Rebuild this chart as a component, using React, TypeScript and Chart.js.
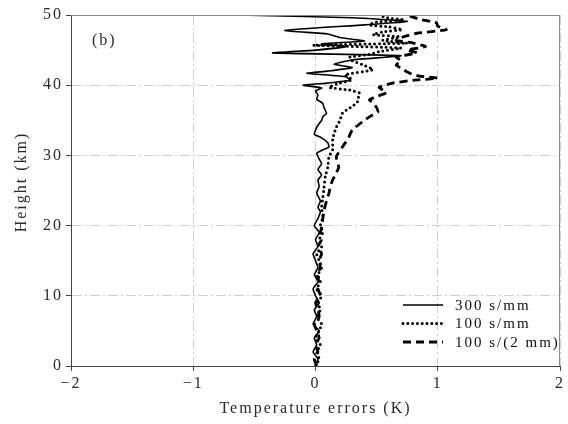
import { useEffect, useRef } from 'react';
import { Chart, registerables } from 'chart.js';

Chart.register(...registerables);

const xTickValues = [-2, -1, 0, 1, 2];
const yTickValues = [0, 10, 20, 30, 40, 50];
const seriesLabels = ['300 s/mm', '100 s/mm', '100 s/(2 mm)'];
const panelLabel = '(b)';
const xTitle = 'Temperature errors (K)';
const yTitle = 'Height (km)';

// [height (km), temperature error (K)]
const solidProfile: [number, number][] = [
  [0, 0], [1, 0.02], [2, -0.02], [3, 0.01], [4, -0.01], [5, 0.03], [6, -0.02], [7, 0.01], [8, -0.01], [9, 0.03],
  [10, 0], [11, -0.02], [12, 0.02], [13, -0.01], [14, 0.02], [15, 0], [16, -0.02], [17, 0.02], [18, 0], [19, 0.03],
  [20, -0.01], [21, 0.02], [22, 0.04], [22.6, 0.02], [23.5, 0.04], [24.6, 0.01], [25.6, 0.03], [26.5, 0.02], [27.2, 0.05],
  [28, 0.02], [28.8, 0.05], [29.5, 0.03], [30.3, 0.01], [30.7, 0.05], [31.2, 0.11], [31.8, 0.1], [32.5, 0.05],
  [33, -0.01], [33.6, 0], [34.3, 0.02], [35, 0.05], [35.5, 0.06], [36, 0.09], [36.8, 0.07], [37.4, 0.06],
  [38, 0.01], [38.6, 0.02], [39.2, 0], [39.6, 0.05], [40, -0.1], [40.3, 0.1], [40.7, 0.28], [41.2, 0.25],
  [41.7, -0.07], [42, 0.1], [42.5, 0.3], [43, 0.15], [43.6, 0.3], [44.2, 0.7], [44.6, -0.35], [45, 0],
  [45.5, 0.25], [45.9, 0.05], [46.3, 0.4], [46.8, 0.2], [47.3, 0.1], [47.8, -0.25], [48.6, 0.4],
  [49.1, 0.75], [49.6, 0.3], [50, -0.64],
];

const dottedProfile: [number, number][] = [
  [0, 0], [1, 0.03], [2, 0.01], [3, 0.04], [4, 0], [5, 0.03], [6, 0.05], [7, 0.01], [8, 0.04], [9, 0.02],
  [10, 0.05], [11, 0.01], [12, 0.04], [13, 0.02], [14, 0.05], [15, 0.03], [16, 0.01], [17, 0.05], [18, 0.03], [19, 0.06],
  [20, 0.04], [21.2, 0.06], [22.6, 0.05], [24, 0.06], [25.5, 0.07], [27, 0.08], [28.3, 0.1], [29.8, 0.11],
  [30.8, 0.14], [32.2, 0.14], [33, 0.15], [34, 0.17], [35, 0.2], [36, 0.22], [37, 0.3], [37.5, 0.34],
  [38.2, 0.35], [38.9, 0.36], [39.3, 0.28], [39.7, 0.11], [40.3, 0.2], [40.8, 0.3], [41.5, 0.24],
  [42.2, 0.47], [42.9, 0.39], [43.5, 0.3], [44, 0.28], [44.4, 0.45], [44.8, 0.52], [45.3, 0.7],
  [45.7, -0.02], [46, 0.75], [46.4, 0.55], [46.9, 0.69], [47.2, 0.47], [47.6, 0.55], [47.9, 0.71],
  [48.3, 0.6], [48.6, 0.44], [49, 0.5], [49.3, 0.72], [49.6, 0.59], [50, 0.52],
];

const dashedProfile: [number, number][] = [
  [0, 0.01], [1, -0.01], [2, 0.02], [3, 0], [4, 0.03], [5, 0.01], [6, -0.01], [7, 0.03], [8, 0.02], [9, 0],
  [10, 0.04], [11, 0.02], [12, 0.03], [13, 0.01], [14, 0.04], [15, 0.03], [16, 0.05], [17, 0.02], [18, 0.05], [19, 0.04],
  [19.8, 0.05], [21, 0.06], [22.2, 0.07], [23.5, 0.09], [24.6, 0.11], [25.5, 0.12], [26.5, 0.14], [27.5, 0.17],
  [28.3, 0.19], [29.8, 0.17], [31.2, 0.22], [32.5, 0.27], [33.6, 0.3], [35, 0.4], [35.6, 0.45], [36.2, 0.51],
  [36.8, 0.5], [37.5, 0.47], [37.9, 0.44], [38.4, 0.5], [38.9, 0.58], [39.3, 0.55], [39.7, 0.52], [40.3, 0.63],
  [40.7, 0.8], [41, 1.0], [41.3, 0.85], [41.7, 0.77], [42.2, 0.72], [42.9, 0.66], [43.5, 0.7], [44, 0.66],
  [44.6, 0.83], [45, 0.75], [45.5, 0.9], [46, 0.8], [46.4, 0.66], [46.9, 0.72], [47.4, 0.83], [47.9, 1.07],
  [48.4, 1.0], [48.9, 0.99], [49.4, 0.85], [50, 0.75],
];

const FONT = "'Liberation Serif', 'DejaVu Serif', serif";
const TEXT_COLOR = '#2a2a2a';

const styles = [
  { width: 1.6, dash: [] as number[], cap: 'butt' as CanvasLineCap },
  { width: 3, dash: [0, 4.8], cap: 'round' as CanvasLineCap },
  { width: 2.8, dash: [8, 5], cap: 'butt' as CanvasLineCap },
];

const toPoints = (p: [number, number][]) => p.map(([h, e]) => ({ x: e, y: h }));

export default function App() {
  const ref = useRef<HTMLCanvasElement | null>(null);

  useEffect(() => {
    if (!ref.current) return;
    const profiles = [solidProfile, dottedProfile, dashedProfile];

    const spacingPlugin = {
      id: 'spacing',
      beforeDraw(chart: any) {
        chart.ctx.letterSpacing = '2px';
      },
    };

    const framePlugin = {
      id: 'frame',
      afterDatasetsDraw(chart: any) {
        const { ctx, chartArea: a } = chart;
        ctx.save();
        ctx.strokeStyle = '#8a8a8a';
        ctx.lineWidth = 1;
        ctx.setLineDash([]);
        ctx.beginPath();
        ctx.moveTo(a.left, a.top + 0.5);
        ctx.lineTo(a.right - 0.5, a.top + 0.5);
        ctx.lineTo(a.right - 0.5, a.bottom);
        ctx.stroke();
        // panel label
        ctx.fillStyle = TEXT_COLOR;
        ctx.font = `16px ${FONT}`;
        ctx.letterSpacing = '2px';
        ctx.textAlign = 'left';
        ctx.textBaseline = 'middle';
        ctx.fillText(panelLabel, a.left + 21, a.top + 26);
        // y title
        ctx.save();
        ctx.translate(22, 182);
        ctx.rotate(-Math.PI / 2);
        ctx.textAlign = 'center';
        ctx.fillText(yTitle, 0, 0);
        ctx.restore();
        // legend
        const x0 = 403;
        const rows = [305, 323.5, 342];
        ctx.font = `15px ${FONT}`;
        seriesLabels.forEach((lab, i) => {
          const s = styles[i];
          ctx.beginPath();
          ctx.strokeStyle = '#000';
          ctx.lineWidth = s.width;
          ctx.setLineDash(s.dash);
          ctx.lineCap = s.cap;
          ctx.moveTo(x0, rows[i]);
          ctx.lineTo(x0 + 40, rows[i]);
          ctx.stroke();
          ctx.setLineDash([]);
          ctx.fillStyle = '#111';
          ctx.fillText(lab, x0 + 52, rows[i] + 1);
        });
        ctx.restore();
      },
    };

    const gridDash = [10, 3, 2, 3];

    const chart = new Chart(ref.current, {
      type: 'scatter',
      data: {
        datasets: profiles.map((p, i) => ({
          label: seriesLabels[i],
          data: toPoints(p),
          showLine: true,
          borderColor: '#000',
          backgroundColor: '#000',
          borderWidth: styles[i].width,
          borderDash: styles[i].dash,
          borderCapStyle: styles[i].cap,
          borderJoinStyle: 'round',
          pointRadius: 0,
          tension: 0.15,
        })),
      },
      options: {
        responsive: false,
        animation: false,
        devicePixelRatio: 1,
        layout: { padding: { top: 15, right: 8, left: 0, bottom: 0 } },
        plugins: { legend: { display: false }, tooltip: { enabled: false } },
        scales: {
          x: {
            type: 'linear',
            min: -2,
            max: 2,
            afterBuildTicks: (s: any) => { s.ticks = xTickValues.map((v) => ({ value: v })); },
            afterFit: (s: any) => { s.height = 58; },
            ticks: {
              color: TEXT_COLOR,
              font: { family: FONT, size: 16 },
              padding: 3,
              maxRotation: 0,
              callback: (v: any) => String(v).replace('-', '\u2212'),
            },
            grid: {
              color: '#cfcfcf',
              lineWidth: 1,
              tickLength: 5,
              tickColor: '#444',
              tickBorderDash: [],
            },
            border: { display: true, color: '#444', width: 1, dash: gridDash },
            title: {
              display: true,
              text: xTitle,
              color: TEXT_COLOR,
              font: { family: FONT, size: 16 },
              padding: { top: 0, bottom: 6 },
            },
          },
          y: {
            type: 'linear',
            min: 0,
            max: 50,
            afterBuildTicks: (s: any) => { s.ticks = yTickValues.map((v) => ({ value: v })); },
            afterFit: (s: any) => { s.width = 71; },
            ticks: {
              color: TEXT_COLOR,
              font: { family: FONT, size: 16 },
              padding: 3,
            },
            grid: {
              color: '#cfcfcf',
              lineWidth: 1,
              tickLength: 5,
              tickColor: '#444',
              tickBorderDash: [],
            },
            border: { display: true, color: '#444', width: 1, dash: gridDash },
            title: { display: false },
          },
        },
      } as any,
      plugins: [spacingPlugin, framePlugin],
    });
    return () => chart.destroy();
  }, []);

  return (
    <div style={{ position: 'absolute', left: 0, top: 0, width: 568, height: 424, background: '#fff' }}>
      <canvas ref={ref} width={568} height={424} style={{ display: 'block' }} />
    </div>
  );
}
